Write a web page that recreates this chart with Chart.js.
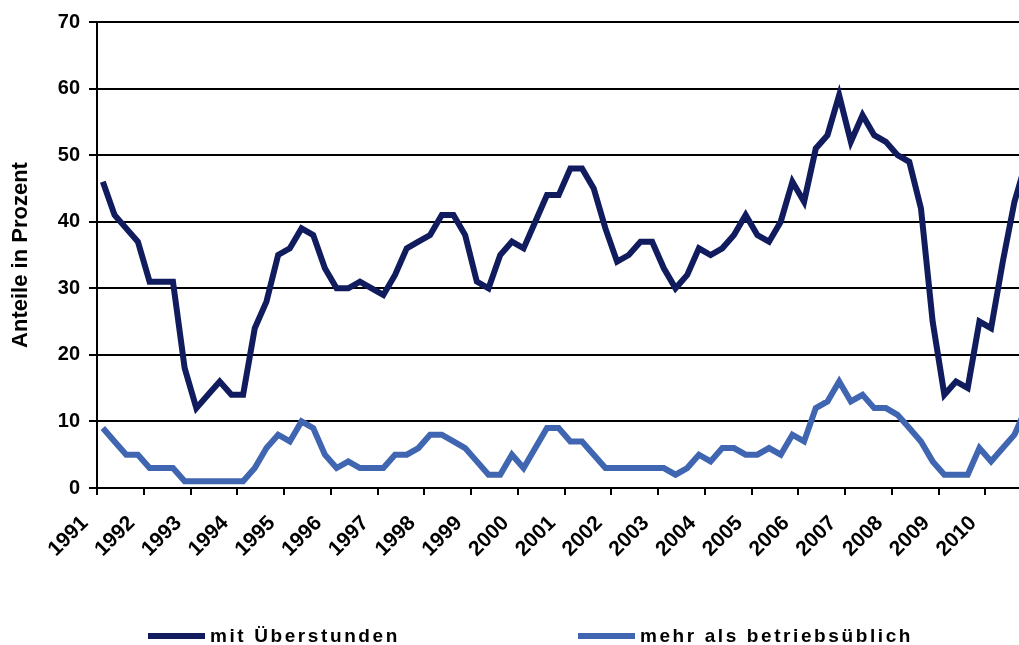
<!DOCTYPE html>
<html lang="de">
<head>
<meta charset="utf-8">
<title>Überstunden</title>
<script src="https://cdn.jsdelivr.net/npm/chart.js@4.4.1/dist/chart.umd.min.js"></script>
<style>
  html, body { margin: 0; padding: 0; background: #fff; overflow: hidden; }
  #wrap { position: relative; width: 1046px; height: 645px; }
  #legend {
    position: absolute; left: 148px; top: 625px;
    display: flex; gap: 178px;
    font: bold 19px "Liberation Sans", Arial, sans-serif;
    letter-spacing: 2.6px; color: #000;
  }
  .item { display: flex; align-items: center; white-space: nowrap; }
  .swatch { width: 57px; height: 6px; margin-right: 5px; }
</style>
</head>
<body>
<div id="wrap">
  <canvas id="chart" width="1046" height="645"></canvas>
  <div id="legend"></div>
</div>
<script>
// quarterly values, 1991 I .. 2010 IV
const years = [1991, 1992, 1993, 1994, 1995, 1996, 1997, 1998, 1999, 2000,
  2001, 2002, 2003, 2004, 2005, 2006, 2007, 2008, 2009, 2010]
const quarterNames = ["I", "II", "III", "IV"]
const yTicks = [0, 10, 20, 30, 40, 50, 60, 70]

const mitUeberstunden = [
  46, 41, 39, 37, 31, 31, 31, 18, 12, 14, 16, 14, 14, 24, 28, 35, 36, 39, 38, 33,
  30, 30, 31, 30, 29, 32, 36, 37, 38, 41, 41, 38, 31, 30, 35, 37, 36, 40, 44, 44,
  48, 48, 45, 39, 34, 35, 37, 37, 33, 30, 32, 36, 35, 36, 38, 41, 38, 37, 40, 46,
  43, 51, 53, 59, 52, 56, 53, 52, 50, 49, 42, 25, 14, 16, 15, 25, 24, 34, 43, 49
]
const mehrAlsBetriebsueblich = [
  9, 7, 5, 5, 3, 3, 3, 1, 1, 1, 1, 1, 1, 3, 6, 8, 7, 10, 9, 5,
  3, 4, 3, 3, 3, 5, 5, 6, 8, 8, 7, 6, 4, 2, 2, 5, 3, 6, 9, 9,
  7, 7, 5, 3, 3, 3, 3, 3, 3, 2, 3, 5, 4, 6, 6, 5, 5, 6, 5, 8,
  7, 12, 13, 16, 13, 14, 12, 12, 11, 9, 7, 4, 2, 2, 2, 6, 4, 6, 8, 12
]

const categories = years.flatMap((y) => quarterNames.map((q) => y + " " + q))

const darkBlue = "#101c5e"
const lightBlue = "#4166b1"
const fontFamily = '"Liberation Sans", Arial, sans-serif'

// legend drawn as html so the wide letter spacing can be kept
const htmlLegend = {
  id: "htmlLegend",
  afterUpdate(chart) {
    const box = document.getElementById("legend")
    box.innerHTML = ""
    chart.options.plugins.legend.labels.generateLabels(chart).forEach((item) => {
      const el = document.createElement("div")
      el.className = "item"
      const sw = document.createElement("span")
      sw.className = "swatch"
      sw.style.background = item.strokeStyle
      const txt = document.createElement("span")
      txt.textContent = item.text
      el.appendChild(sw)
      el.appendChild(txt)
      box.appendChild(el)
    })
  },
}

new Chart(document.getElementById("chart"), {
  type: "line",
  data: {
    labels: categories,
    datasets: [
      {
        label: "mit Überstunden",
        data: mitUeberstunden,
        borderColor: darkBlue,
        backgroundColor: darkBlue,
        borderWidth: 6,
        pointRadius: 0,
        tension: 0,
      },
      {
        label: "mehr als betriebsüblich",
        data: mehrAlsBetriebsueblich,
        borderColor: lightBlue,
        backgroundColor: lightBlue,
        borderWidth: 6,
        pointRadius: 0,
        tension: 0,
      },
    ],
  },
  options: {
    responsive: false,
    animation: false,
    layout: { padding: { top: 22, right: 14, left: 0, bottom: 0 } },
    plugins: {
      legend: { display: false },
      tooltip: { enabled: false },
    },
    scales: {
      x: {
        type: "category",
        offset: true,
        grid: {
          offset: true,
          drawOnChartArea: false,
          tickLength: 7,
          lineWidth: 2,
          color: (ctx) => (ctx.index % 4 === 0 ? "#000" : "rgba(0,0,0,0)"),
        },
        border: { display: true, color: "#000", width: 2 },
        ticks: {
          autoSkip: false,
          minRotation: 45,
          maxRotation: 45,
          padding: 16,
          labelOffset: -18,
          color: "#000",
          font: { family: fontFamily, size: 21, weight: "bold" },
          callback: (val, i) => (i % 4 === 0 ? String(years[i / 4]) : ""),
        },
        afterFit: (scale) => {
          scale.height = 157
          scale.paddingLeft = 0
          scale.paddingRight = 0
        },
      },
      y: {
        min: 0,
        max: 70,
        afterBuildTicks: (scale) => {
          scale.ticks = yTicks.map((v) => ({ value: v }))
        },
        grid: { color: "#000", lineWidth: 2, tickLength: 8 },
        border: { display: true, color: "#000", width: 2 },
        ticks: {
          padding: 9,
          color: "#000",
          font: { family: fontFamily, size: 20, weight: "bold" },
        },
        title: {
          display: true,
          text: "Anteile in Prozent",
          color: "#000",
          font: { family: fontFamily, size: 22, weight: "bold" },
          padding: { top: 8, bottom: 0 },
        },
        afterFit: (scale) => {
          scale.width = 97
        },
      },
    },
  },
  plugins: [htmlLegend],
})
</script>
</body>
</html>
